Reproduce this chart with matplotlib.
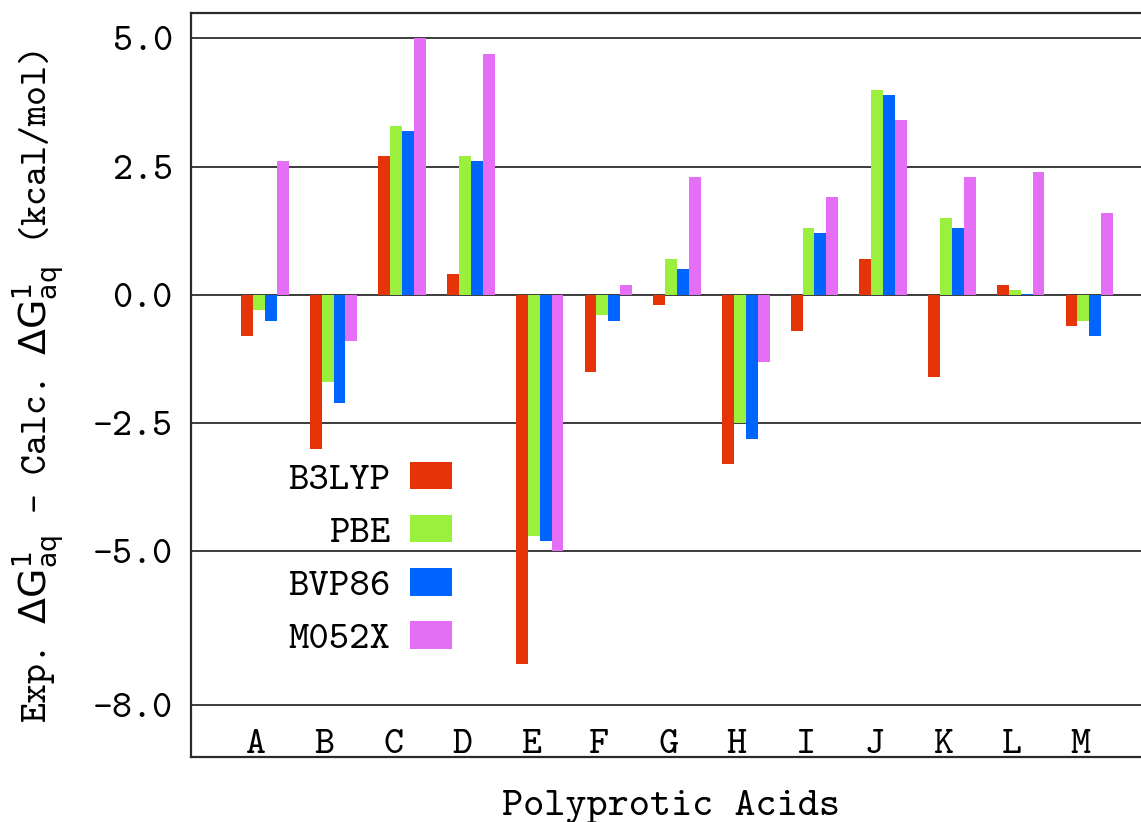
import numpy as np
import matplotlib
matplotlib.use("Agg")
import matplotlib.pyplot as plt
from matplotlib.patches import Patch

# Error per acid: experimental minus calculated ΔG (kcal/mol)
acids = list("ABCDEFGHIJKLM")
methods = ["B3LYP", "PBE", "BVP86", "M052X"]
b3lyp = [-0.8, -3.0, 2.7, 0.4, -7.2, -1.5, -0.2, -3.3, -0.7, 0.7, -1.6, 0.2, -0.6]
pbe = [-0.3, -1.7, 3.3, 2.7, -4.7, -0.4, 0.7, -2.5, 1.3, 4.0, 1.5, 0.1, -0.5]
bvp86 = [-0.5, -2.1, 3.2, 2.6, -4.8, -0.5, 0.5, -2.8, 1.2, 3.9, 1.3, 0.02, -0.8]
m052x = [2.6, -0.9, 5.0, 4.7, -5.0, 0.2, 2.3, -1.3, 1.9, 3.4, 2.3, 2.4, 1.6]
ytick_vals = [5.0, 2.5, 0.0, -2.5, -5.0, -8.0]
ytick_labels = ["5.0", "2.5", "0.0", "-2.5", "-5.0", "-8.0"]

colors = ["#E53508", "#9BF03E", "#0064FF", "#E46EF5"]

# serif typewriter face shipped with matplotlib
plt.rcParams["font.family"] = ["cmtt10", "Liberation Mono"]
plt.rcParams["mathtext.fontset"] = "dejavusans"

W, H = 1141, 822
fig = plt.figure(figsize=(W / 100, H / 100), dpi=100)
# axes box in pixels: left 190.7, right beyond the canvas, top 12.7, bottom 756.7
ax = fig.add_axes([190.7 / W, 1 - 756.7 / H, (1145.6 - 190.7) / W, (756.7 - 12.7) / H])

x = np.arange(len(acids))
width = 0.173
start = -0.215
for i, (name, vals) in enumerate(zip(methods, [b3lyp, pbe, bvp86, m052x])):
    ax.bar(x + start + width * (i + 0.5), vals, width=width, color=colors[i],
           edgecolor="none", zorder=3, label=name)

ax.set_xlim(-0.948, 12.95)
ax.set_ylim(-9.0, 5.5)

ax.set_yticks(ytick_vals, labels=ytick_labels)
ax.set_xticks(x, labels=acids, va="baseline")
ax.tick_params(axis="y", direction="in", length=10, width=1.4, color="#444",
               labelsize=27.5, pad=13)
ax.tick_params(axis="x", length=0, labelsize=27.5, pad=-3)

ax.grid(axis="y", color="#1a1a1a", linewidth=1.2, zorder=1)
ax.set_axisbelow(True)

for side in ("left", "top", "bottom"):
    ax.spines[side].set_linewidth(1.6)
    ax.spines[side].set_color("#2a2a2a")
ax.spines["right"].set_visible(False)

handles = [Patch(facecolor=c, edgecolor="none", label=m) for c, m in zip(colors, methods)]
ax.legend(handles=handles, markerfirst=False, frameon=False, fontsize=28,
          handlelength=1.06, handleheight=0.72, handletextpad=0.52,
          labelspacing=0.43, borderpad=0, borderaxespad=0,
          loc="center right", bbox_to_anchor=(451.7 / W, 1 - 559.5 / H),
          bbox_transform=fig.transFigure)

fig.text(39 / W, 1 - 386.7 / H,
         r"Exp. $\Delta\mathrm{G}^{1}_{\mathrm{aq}}$ - Calc. $\Delta\mathrm{G}^{1}_{\mathrm{aq}}$ (kcal/mol)",
         rotation=90, ha="center", va="center", fontsize=27.3)
fig.text(671.5 / W, 1 - 815 / H, "Polyprotic Acids", ha="center", va="baseline",
         fontsize=29)

fig.savefig("out.png", dpi=100)
